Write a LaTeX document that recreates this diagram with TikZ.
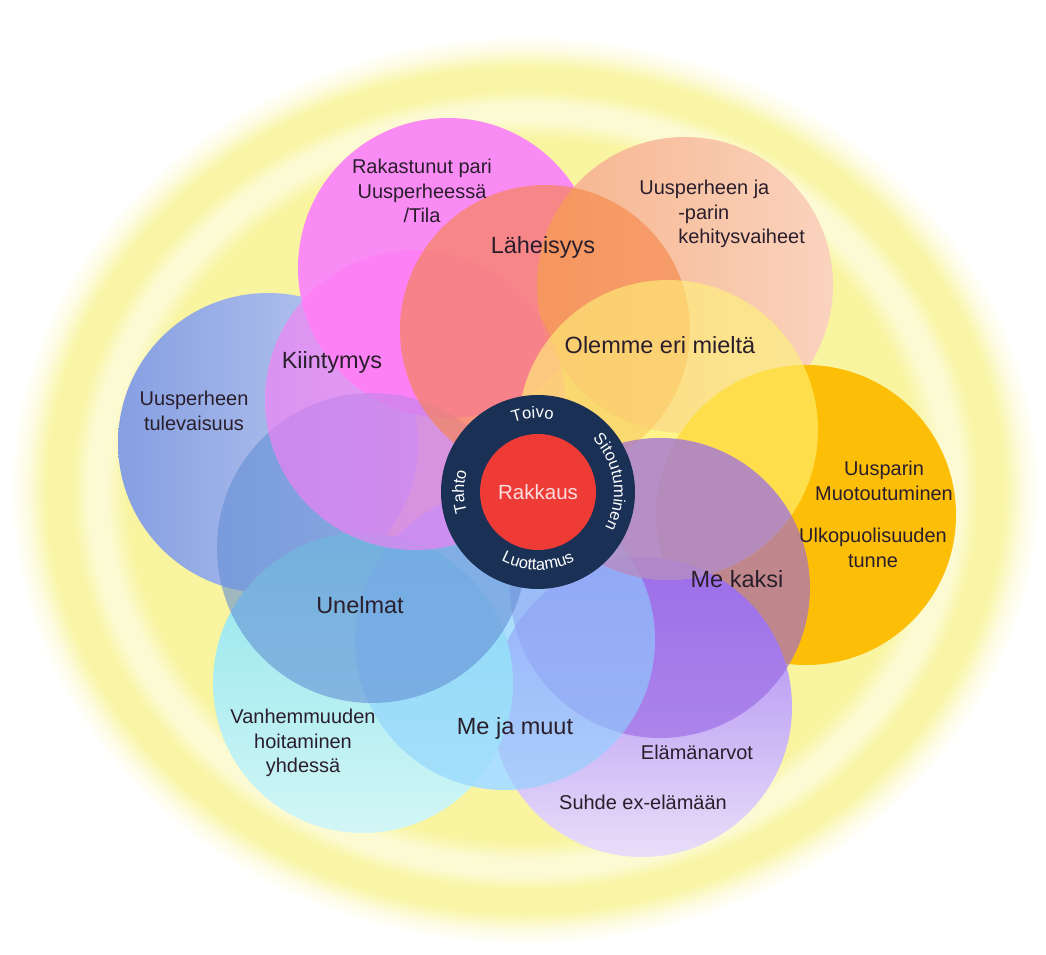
\documentclass[tikz,border=0pt]{standalone}
\usepackage{fontspec}
\setmainfont{Liberation Sans}
\usetikzlibrary{decorations.text}

\definecolor{glowA}{HTML}{F8F4A0}
\definecolor{glowB}{HTML}{FCFAD2}
\definecolor{glowC}{HTML}{F9F5A6}
\definecolor{glowD}{HTML}{FDFCE4}
\definecolor{ink}{HTML}{2A1E2C}
\definecolor{navy}{HTML}{1B3055}
\definecolor{rakred}{HTML}{EF3B36}
\definecolor{rakink}{HTML}{F8DEDE}
\definecolor{bluL}{HTML}{869FE2}
\definecolor{bluR}{HTML}{C3D0F1}
\definecolor{magA}{HTML}{F98CF4}
\definecolor{peaL}{HTML}{F6B48C}
\definecolor{peaR}{HTML}{FAD3BE}
\definecolor{oraA}{HTML}{FDBE08}
\definecolor{lavT}{HTML}{A57EF3}
\definecolor{lavB}{HTML}{E8DEF8}
\definecolor{cyaT}{HTML}{8DE5EC}
\definecolor{cyaB}{HTML}{D3F6F6}
\definecolor{mjm}{HTML}{8CD2FF}
\definecolor{mjmbase}{HTML}{DDF0FA}
\definecolor{une}{HTML}{648FD5}
\definecolor{kii}{HTML}{FF7BF7}
\definecolor{lah}{HTML}{F68343}
\definecolor{ole}{HTML}{FFF578}
\definecolor{mek}{HTML}{9663E3}

% the path edge of a shaded path sits at 25bp
\pgfdeclareradialshading{glow}{\pgfpoint{0bp}{0bp}}{color(0bp)=(glowA); color(19.3bp)=(glowA); color(20.3bp)=(glowB); color(21.2bp)=(glowB); color(22bp)=(glowC); color(23.2bp)=(glowC); color(24.2bp)=(glowD); color(25bp)=(white); color(50bp)=(white)}

\newcommand{\ringfont}{\fontsize{11.7}{12}\selectfont\color{white}}

\begin{document}
\begin{tikzpicture}[x=0.025cm, y=0.025cm,
	innerdisc/.style={fill opacity=0.6},
	lbl/.style={font=\fontsize{14.2}{17.4}\selectfont, align=center, text=ink, inner sep=0pt},
	biglbl/.style={font=\fontsize{16.7}{20}\selectfont, text=ink, inner sep=0pt},
	ringword/.style={decorate, decoration={text along path, text align=center, text={|\ringfont|#1}}}]
	\useasboundingbox (0,0) rectangle (1046,954);
	\begin{scope}
		\clip (0,0) rectangle (1046,954);
		\shade[shading=glow] (525,464) ellipse [x radius=515, y radius=455];
	\end{scope}
	\fill[mjmbase] (505,314) circle (150);
	
	% outer discs
	\shade[left color=bluL, right color=bluR] (268,511) circle (150);
	\fill[magA] (448,686) circle (150);
	\shade[left color=peaL, right color=peaR] (685,669) circle (148);
	\fill[oraA] (806,439) circle (150);
	\shade[top color=lavT, bottom color=lavB] (642,247) circle (150);
	\shade[top color=cyaT, bottom color=cyaB] (363,271) circle (150);
	
	% inner discs
	\fill[innerdisc, fill=mek] (660,366) circle (150);
	\fill[innerdisc, fill=mjm] (505,314) circle (150);
	\fill[innerdisc, fill=une] (372,406) circle (155);
	\fill[innerdisc, fill=kii] (415,554) circle (150);
	\fill[innerdisc, fill=lah] (545,624) circle (145);
	\fill[innerdisc, fill=ole] (668,524) circle (150);
	\begin{scope}
		\clip (668,524) circle (150);
		\fill[innerdisc, fill=mek] (660,366) circle (150);
	\end{scope}
	
	% core
	\coordinate (core) at (538,462);
	\fill[navy] (core) circle (97);
	\fill[rakred] (core) circle (58);
	\node[font=\fontsize{14.6}{16}\selectfont, text=rakink] (rakkaus) at (core) {Rakkaus};
	\path[ringword=Toivo] ([shift={(150:74)}]core) arc[start angle=150, end angle=38, radius=74];
	\path[ringword=Sitoutuminen] ([shift={(72:76)}]core) arc[start angle=72, end angle=-56, radius=76];
	\path[ringword=Luottamus] ([shift={(215:78)}]core) arc[start angle=215, end angle=325, radius=78];
	\path[ringword=Tahto] ([shift={(235:74)}]core) arc[start angle=235, end angle=125, radius=74];
	
	% labels
	\node[lbl] (rakastunut) at (422,763) {Rakastunut pari\\Uusperheessä\\/Tila};
	\node[lbl, align=left, anchor=west] (kehitys) at (678,740) {\hspace*{-0.97cm}Uusperheen ja\\-parin\\kehitysvaiheet};
	\node[lbl] (tulevaisuus) at (194,543) {Uusperheen\\tulevaisuus};
	\node[lbl] (uusparin) at (884,473) {Uusparin\\Muotoutuminen};
	\node[lbl] (ulkopuoli) at (873,406) {Ulkopuolisuuden\\tunne};
	\node[lbl] (vanhemmuus) at (303,211) {Vanhemmuuden\\hoitaminen\\yhdessä};
	\node[lbl] (arvot) at (697,202) {Elämänarvot};
	\node[lbl] (exelama) at (643,152) {Suhde ex-elämään};
	\node[biglbl] (laheisyys) at (543,707) {Läheisyys};
	\node[biglbl] (olemme) at (660,609) {Olemme eri mieltä};
	\node[biglbl] (kiintymys) at (332,592) {Kiintymys};
	\node[biglbl] (unelmat) at (360,349) {Unelmat};
	\node[biglbl] (mejamuut) at (515,226) {Me ja muut};
	\node[biglbl] (mekaksi) at (737,375) {Me kaksi};
\end{tikzpicture}
\end{document}
